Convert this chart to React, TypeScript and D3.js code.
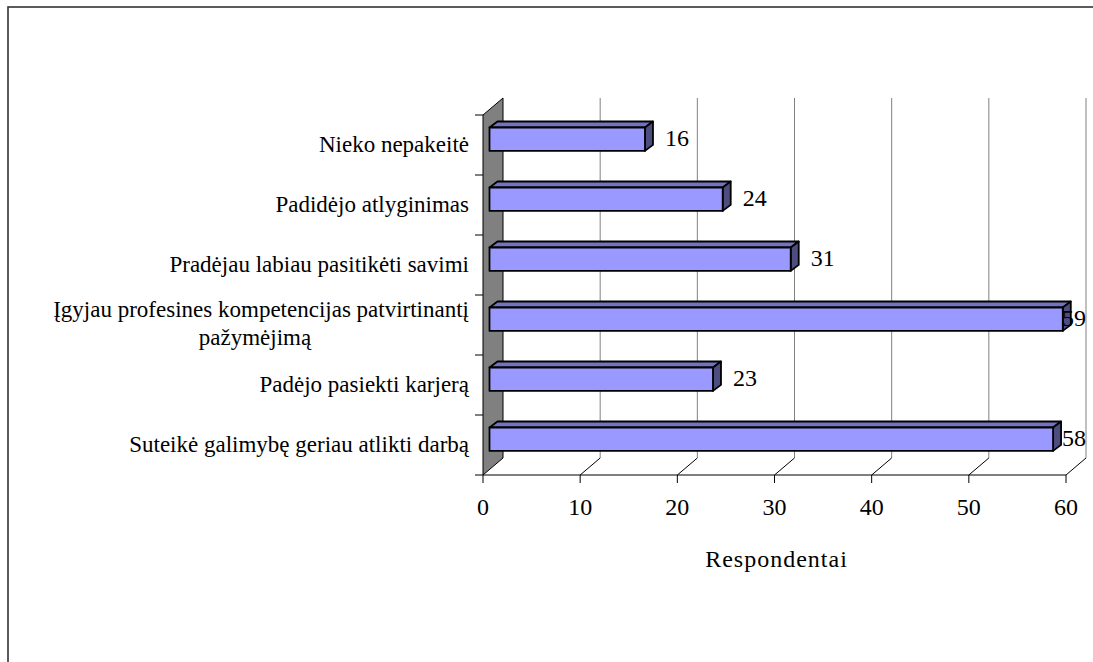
import React from "react";
import * as d3 from "d3";

const categories = [
  "Nieko nepakeitė",
  "Padidėjo atlyginimas",
  "Pradėjau labiau pasitikėti savimi",
  "Įgyjau profesines kompetencijas patvirtinantį pažymėjimą",
  "Padėjo pasiekti karjerą",
  "Suteikė galimybę geriau atlikti darbą",
];
const categoryLines = [
  ["Nieko nepakeitė"],
  ["Padidėjo atlyginimas"],
  ["Pradėjau labiau pasitikėti savimi"],
  ["Įgyjau profesines kompetencijas patvirtinantį", "pažymėjimą"],
  ["Padėjo pasiekti karjerą"],
  ["Suteikė galimybę geriau atlikti darbą"],
];
const values = [16, 24, 31, 59, 23, 58];
const xTicks = [0, 10, 20, 30, 40, 50, 60];
const axisTitle = "Respondentai";

const W = 1093;
const H = 662;
const FONT = '"Liberation Serif"';
const ts: React.CSSProperties = { fontFamily: FONT, fontSize: 24 };
const cs: React.CSSProperties = { fontFamily: FONT, fontSize: 23 };

export default function App() {
  const x0 = 483;
  const x1 = 1066;
  const yTop = 115;
  const yBot = 475;
  const depthX = 20;
  const depthY = -17;
  const x = d3.scaleLinear().domain([0, 60]).range([x0, x1]);
  const y = d3.scaleBand<string>().domain(categories).range([yTop, yBot]).paddingInner(0);
  const bw = y.bandwidth();

  const barFrontDx = 6.5;
  const barFrontDy = -5.5;
  const barDepthX = 8;
  const barDepthY = -6;
  const barTopRel = -12;
  const barH = bw * 0.39;

  const frontFill = "#9999FF";
  const topFill = "#7373BF";
  const sideFill = "#4D4D80";

  const labelMaxStart = x(60) + depthX - 24;

  return (
    <svg
      width={W}
      height={H}
      style={{ position: "absolute", left: 0, top: 0, display: "block", background: "#fff" }}
    >
      <rect x={0} y={0} width={W} height={H} fill="#fff" />
      <rect x={8} y={7} width={W + 20} height={H + 20} fill="none" stroke="#333" strokeWidth={1.6} />

      {xTicks.filter((t) => t > 0).map((t) => (
        <g key={"g" + t}>
          <line x1={x(t) + depthX} x2={x(t) + depthX} y1={yTop + depthY} y2={yBot + depthY} stroke="#808080" strokeWidth={1} />
          <line x1={x(t)} y1={yBot} x2={x(t) + depthX} y2={yBot + depthY} stroke="#000" strokeWidth={1} />
        </g>
      ))}

      <polygon
        points={[
          [x0, yTop],
          [x0 + depthX, yTop + depthY],
          [x0 + depthX, yBot + depthY],
          [x0, yBot],
        ].map((p) => p.join(",")).join(" ")}
        fill="#808080"
        stroke="#000"
        strokeWidth={1}
      />

      {categories.map((c, i) => (
        <line key={"yt" + i} x1={x0 - 8} x2={x0} y1={y(c)!} y2={y(c)!} stroke="#000" strokeWidth={1} />
      ))}
      <line x1={x0 - 8} x2={x0} y1={yBot} y2={yBot} stroke="#000" strokeWidth={1} />

      <line x1={x0} x2={x1} y1={yBot} y2={yBot} stroke="#000" strokeWidth={1.2} />
      {xTicks.map((t) => (
        <g key={"xt" + t}>
          <line x1={x(t)} x2={x(t)} y1={yBot} y2={yBot + 8} stroke="#000" strokeWidth={1} />
          <text x={x(t)} y={515} textAnchor="middle" style={ts} fill="#000">
            {t}
          </text>
        </g>
      ))}
      <text x={(x0 + x1) / 2 + 2} y={567} textAnchor="middle" style={{ ...ts, letterSpacing: 1 }} fill="#000">
        {axisTitle}
      </text>

      {categories.map((c, i) => {
        const cy = y(c)! + bw / 2;
        const fx0 = x(0) + barFrontDx;
        const fx1 = x(values[i]) + barFrontDx;
        const fy0 = cy + barTopRel + barFrontDy;
        const fy1 = fy0 + barH;
        const pts = (arr: number[][]) => arr.map((p) => p.join(",")).join(" ");
        return (
          <g key={"b" + i} stroke="#000" strokeWidth={1.8} strokeLinejoin="round">
            <polygon
              points={pts([
                [fx0, fy0],
                [fx0 + barDepthX, fy0 + barDepthY],
                [fx1 + barDepthX, fy0 + barDepthY],
                [fx1, fy0],
              ])}
              fill={topFill}
            />
            <polygon
              points={pts([
                [fx1, fy0],
                [fx1 + barDepthX, fy0 + barDepthY],
                [fx1 + barDepthX, fy1 + barDepthY],
                [fx1, fy1],
              ])}
              fill={sideFill}
            />
            <rect x={fx0} y={fy0} width={fx1 - fx0} height={fy1 - fy0} fill={frontFill} />
          </g>
        );
      })}

      {categories.map((c, i) => {
        const cy = y(c)! + bw / 2;
        const backRight = x(values[i]) + barFrontDx + barDepthX;
        const lx = Math.min(backRight + 12, labelMaxStart);
        return (
          <text key={"v" + i} x={lx} y={cy + 1} style={ts} fill="#000">
            {values[i]}
          </text>
        );
      })}

      {categories.map((c, i) => {
        const cy = y(c)! + bw / 2;
        const lines = categoryLines[i];
        if (lines.length === 1) {
          return (
            <text key={"c" + i} x={469} y={cy + 7} textAnchor="end" style={cs} fill="#000">
              {lines[0]}
            </text>
          );
        }
        return (
          <g key={"c" + i}>
            <text x={469} y={cy - 8} textAnchor="end" style={cs} fill="#000">
              {lines[0]}
            </text>
            <text x={255} y={cy + 20} textAnchor="middle" style={cs} fill="#000">
              {lines[1]}
            </text>
          </g>
        );
      })}
    </svg>
  );
}
